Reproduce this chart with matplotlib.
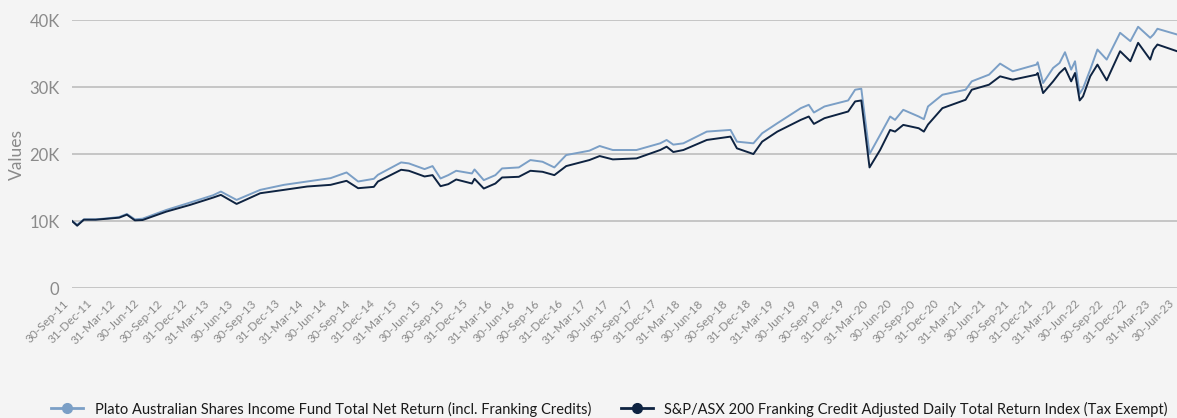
import matplotlib.pyplot as plt
import matplotlib.ticker as mticker
import matplotlib.transforms as mtransforms
from matplotlib.lines import Line2D
import pandas as pd

# values (growth of 10K)
dates = ['2011-09-30', '2011-10-20', '2011-11-15', '2011-12-31', '2012-02-15', '2012-03-31',
         '2012-04-30', '2012-05-31', '2012-06-30', '2012-09-30', '2012-12-31', '2013-03-31',
         '2013-04-30', '2013-06-30', '2013-09-30', '2013-12-31', '2014-03-31', '2014-06-30',
         '2014-08-31', '2014-10-15', '2014-12-15', '2014-12-31', '2015-03-31', '2015-04-30',
         '2015-06-30', '2015-07-31', '2015-08-31', '2015-09-30', '2015-10-31', '2015-12-31',
         '2016-01-10', '2016-02-15', '2016-03-31', '2016-04-26', '2016-06-30', '2016-08-14',
         '2016-09-30', '2016-11-15', '2016-12-31', '2017-03-31', '2017-05-10', '2017-06-30',
         '2017-09-30', '2017-12-31', '2018-01-25', '2018-02-20', '2018-03-31', '2018-06-30',
         '2018-09-30', '2018-10-25', '2018-12-28', '2019-01-31', '2019-03-31', '2019-06-30',
         '2019-07-31', '2019-08-20', '2019-09-30', '2019-12-31', '2020-01-27', '2020-02-20',
         '2020-03-23', '2020-05-03', '2020-06-11', '2020-06-30', '2020-08-01', '2020-09-30',
         '2020-10-20', '2020-11-05', '2020-12-31', '2021-03-31', '2021-04-24', '2021-06-30',
         '2021-08-12', '2021-09-30', '2021-12-31', '2022-01-05', '2022-01-26', '2022-03-06',
         '2022-03-31', '2022-04-21', '2022-05-15', '2022-05-30', '2022-06-17', '2022-06-30',
         '2022-07-28', '2022-08-25', '2022-09-30', '2022-11-21', '2022-12-31', '2023-01-30',
         '2023-03-18', '2023-03-31', '2023-04-15', '2023-06-30']

fund = [10000, 9450, 10250, 10250, 10400, 10600,
        11050, 10250, 10350, 11650, 12750, 13850,
        14400, 13150, 14650, 15400, 15900, 16400,
        17250, 15900, 16300, 16900, 18750, 18600,
        17750, 18200, 16350, 16850, 17500, 17100,
        17700, 16100, 16850, 17850, 18000, 19100,
        18850, 18000, 19850, 20500, 21200, 20600,
        20600, 21600, 22100, 21400, 21600, 23350,
        23600, 21850, 21600, 23100, 24600, 26850,
        27350, 26200, 27100, 28000, 29600, 29750,
        20000, 22850, 25600, 25100, 26600, 25600,
        25200, 27100, 28850, 29600, 30850, 31850,
        33500, 32350, 33350, 33700, 30600, 32850,
        33600, 35200, 32600, 33850, 29000, 29800,
        32600, 35600, 34100, 38100, 36850, 39000,
        37350, 37850, 38700, 37850]

bench = [10000, 9300, 10200, 10200, 10350, 10500,
         10950, 10100, 10150, 11400, 12400, 13500,
         13900, 12550, 14150, 14650, 15150, 15400,
         16000, 14900, 15100, 15900, 17650, 17500,
         16650, 16850, 15200, 15500, 16200, 15600,
         16300, 14850, 15600, 16500, 16600, 17500,
         17350, 16850, 18200, 19100, 19700, 19200,
         19350, 20600, 21100, 20300, 20600, 22100,
         22600, 20850, 20000, 21850, 23350, 25100,
         25600, 24500, 25350, 26350, 27850, 28000,
         18000, 20600, 23600, 23350, 24350, 23850,
         23350, 24400, 26850, 28100, 29600, 30350,
         31600, 31100, 31850, 32100, 29100, 30850,
         32100, 32850, 30850, 32100, 28000, 28600,
         31600, 33350, 31000, 35350, 33850, 36600,
         34100, 35600, 36350, 35350]

fund_name = 'Plato Australian Shares Income Fund Total Net Return (incl. Franking Credits)'
bench_name = 'S&P/ASX 200 Franking Credit Adjusted Daily Total Return Index (Tax Exempt)'

x = pd.to_datetime(dates)
quarters = pd.date_range('2011-09-30', '2023-06-30', freq='QE')

bg = '#f4f4f4'
light = '#7b9fc6'
dark = '#0e2341'
grey = '#8a8a8a'

fig = plt.figure(figsize=(11.77, 4.18), dpi=100, facecolor=bg)
ax = fig.add_axes([0.0612, 0.311, 0.9388, 0.641], facecolor=bg)

ax.plot(x, fund, color=light, lw=1.4)
ax.plot(x, bench, color=dark, lw=1.4)

ax.set_xlim(quarters[0], quarters[-1])
ax.set_ylim(0, 40000)
ax.yaxis.set_major_locator(mticker.MultipleLocator(10000))
ax.yaxis.set_major_formatter(mticker.FuncFormatter(lambda v, p: '0' if v == 0 else f'{int(v/1000)}K'))
ax.grid(axis='y', color='#bdbdbd', lw=1.2)
ax.set_axisbelow(True)
for s in ax.spines.values():
    s.set_visible(False)

ax.set_xticks(quarters)
ax.set_xticklabels([d.strftime('%d-%b-%y') for d in quarters], rotation=45, ha='right',
                   rotation_mode='anchor', fontsize=8.5, color=grey, family='Lato')
ax.tick_params(axis='x', length=0, pad=7)
ax.tick_params(axis='y', length=0, pad=9, labelsize=12, labelcolor=grey)
for t in ax.get_yticklabels():
    t.set_family('Lato')

# nudge the date labels left so the last one stays inside the figure
shift = mtransforms.ScaledTranslation(-9 / 100, 0, fig.dpi_scale_trans)
for t in ax.get_xticklabels():
    t.set_transform(t.get_transform() + shift)

ax.set_ylabel('Values', fontsize=12.5, color=grey, family='Lato')
ax.yaxis.set_label_coords(-0.0425, 0.5)

# legend handles show a line with a dot in the middle
h1 = Line2D([], [], color=light, lw=2, marker='o', markersize=7)
h2 = Line2D([], [], color=dark, lw=2, marker='o', markersize=7)
fig.legend([h1, h2], [fund_name, bench_name], loc='lower center', bbox_to_anchor=(0.518, -0.028),
           ncol=2, frameon=False, prop={'family': 'Lato', 'size': 10.5}, handlelength=2.2,
           columnspacing=2.0, labelcolor='#1a1a1a')

fig.savefig('out.png', dpi=100, facecolor=bg)
